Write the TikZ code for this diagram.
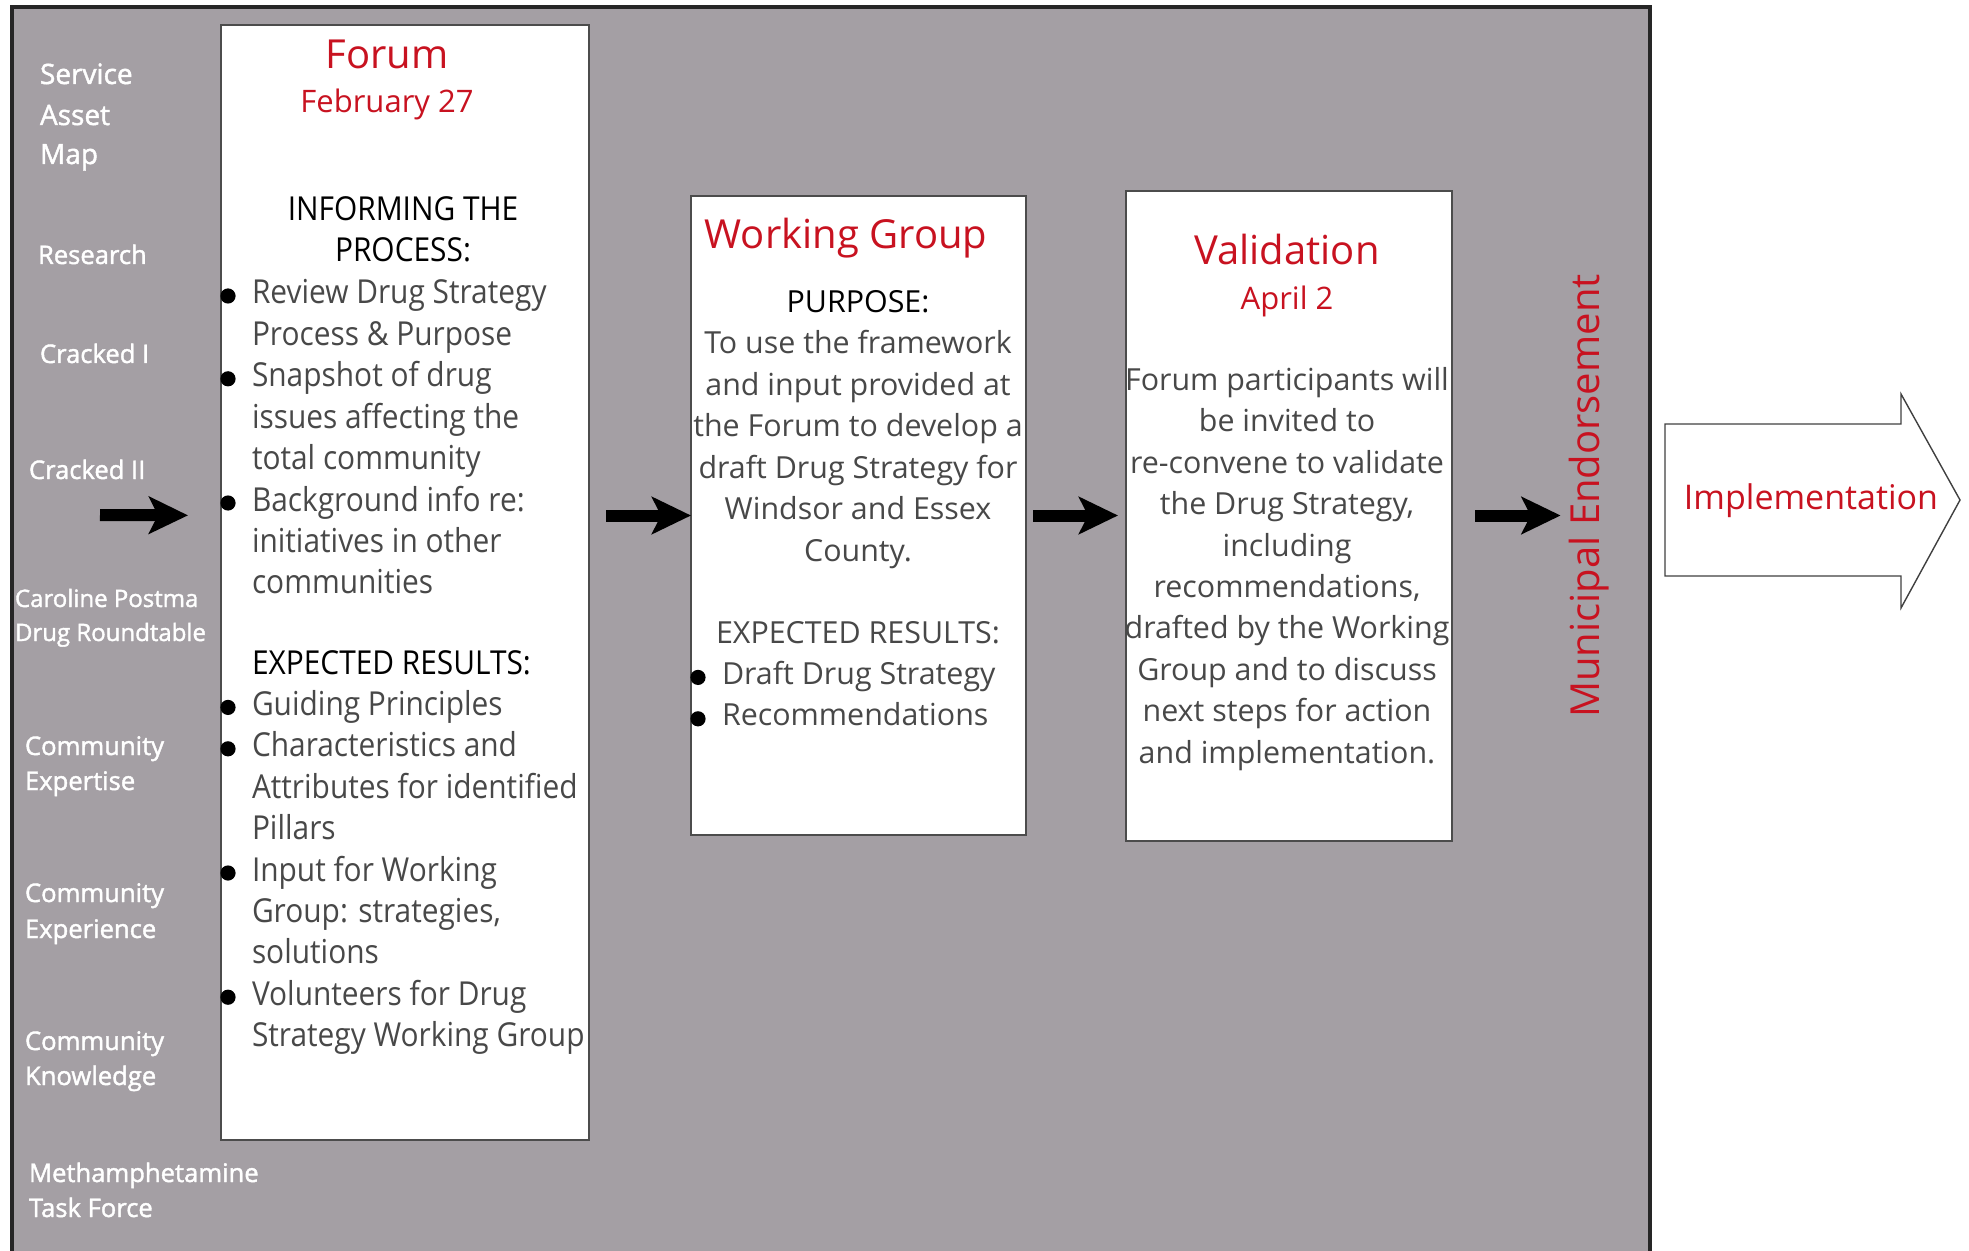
\documentclass[tikz,border=0pt]{standalone}
\usepackage{fontspec}
\setmainfont{Open Sans}
\newfontfamily\bodyfont{Open Sans}
\newfontfamily\narrowfont[FakeStretch=0.905]{Open Sans}
\newfontfamily\labelfont[FakeBold=1.6]{Open Sans}
\usetikzlibrary{arrows.meta}
\definecolor{panel}{RGB}{164,159,164}
\definecolor{accent}{RGB}{200,18,32}
\definecolor{bodytext}{RGB}{72,72,72}
\begin{document}
\begin{tikzpicture}[x=0.5pt, y=-0.5pt,
  every node/.style={inner sep=0pt, outer sep=0pt},
  stagebox/.style={draw=black!70, line width=0.9pt, fill=white, rectangle, anchor=north west},
  title/.style={text=accent, font=\bodyfont\fontsize{20}{24}\selectfont, anchor=base},
  datetxt/.style={text=accent, font=\bodyfont\fontsize{15.5}{19}\selectfont, anchor=base},
  fbody/.style={text=bodytext, font=\narrowfont\fontsize{16.5}{20}\selectfont, anchor=base west},
  fhead/.style={text=black, font=\narrowfont\fontsize{16.5}{20}\selectfont, anchor=base},
  cbody/.style={text=bodytext, font=\bodyfont\fontsize{15.2}{19}\selectfont, anchor=base},
  side/.style={text=white, font=\labelfont\fontsize{12.8}{15}\selectfont, anchor=base west},
  sidelarge/.style={text=white, font=\labelfont\fontsize{14}{17}\selectfont, anchor=base west},
  sidesmall/.style={text=white, font=\labelfont\fontsize{12}{14}\selectfont, anchor=base west},
  flow/.style={line width=6pt, -{Stealth[length=19.5pt, width=18.5pt, inset=4.5pt]}},
  bullet/.style={fill=black}
]
\useasboundingbox (0,0) rectangle (1969,1251);

% grey backdrop
\fill[panel] (12,7) rectangle (1650,1251);
\draw[line width=1.6pt, black!85] (12,1251) -- (12,7) -- (1650,7) -- (1650,1251);

% input labels
\foreach \px/\py/\t [count=\i] in {40/75/Service, 40/116/Asset, 40/155/Map}
  \node[sidelarge] (lbla\i) at (\px,\py+9) {\t};
\foreach \px/\py/\t [count=\i] in {
  38/256/Research, 40/355/Cracked I, 29/471/Cracked II,
  25/747/Community, 25/782/Expertise,
  25/894/Community, 25/930/Experience,
  25/1042/Community, 25/1077/Knowledge,
  29/1174/Methamphetamine, 29/1209/Task Force}
  \node[side] (lbl\i) at (\px,\py+8) {\t};
\node[sidesmall] (lblcp1) at (15,607) {Caroline Postma};
\node[sidesmall] (lblcp2) at (15,641) {Drug Roundtable};

% stage boxes
\node[stagebox, minimum width=184pt, minimum height=557.5pt] (forum) at (221,25) {};
\node[stagebox, minimum width=167.5pt, minimum height=319.5pt] (wg) at (691,196) {};
\node[stagebox, minimum width=163pt, minimum height=325pt] (val) at (1126,191) {};

% Forum
\node[title] (forumtitle) at (387,69) {Forum};
\node[datetxt] (forumdate) at (387,113) {February 27};
\node[fhead] (inf1) at (403,221) {INFORMING THE};
\node[fhead] (inf2) at (403,262) {PROCESS:};
\foreach \t [count=\k from 0] in {Review Drug Strategy, Process \& Purpose,
  Snapshot of drug, issues affecting the, total community,
  Background info re:, initiatives in other, communities}
  \node[fbody] (fa\k) at (252,304+41.4*\k) {\t};
\node[fbody, text=black] (fexp) at (252,674) {EXPECTED RESULTS:};
\foreach \t [count=\k] in {Guiding Principles, Characteristics and,
  Attributes for identified, Pillars, Input for Working,
  {Group: strategies,}, solutions, Volunteers for Drug,
  Strategy Working Group}
  \node[fbody] (fb\k) at (252,674+41.4*\k) {\t};
\foreach \by in {293, 375.8, 500, 704.4, 745.8, 870, 994.2}
  \fill[bullet] (228,\by+3) circle[radius=3.8pt];

% Working Group
\node[title] (wgtitle) at (846,249) {Working Group};
\node[cbody, text=black] (purp) at (858,313) {PURPOSE:};
\foreach \t [count=\k from 0] in {To use the framework, and input provided at,
  the Forum to develop a, draft Drug Strategy for, Windsor and Essex, County.}
  \node[cbody] (wa\k) at (858,354+41.4*\k) {\t};
\node[cbody] (wexp) at (858,643) {EXPECTED RESULTS:};
\node[cbody, anchor=base west] (wb1) at (722,684.4) {Draft Drug Strategy};
\node[cbody, anchor=base west] (wb2) at (722,725.8) {Recommendations};
\foreach \by in {674.4, 715.8}
  \fill[bullet] (698,\by+3) circle[radius=3.8pt];

% Validation
\node[title] (valtitle) at (1287,265) {Validation};
\node[datetxt] (valdate) at (1287,310) {April 2};
\foreach \t [count=\k from 0] in {Forum participants will, be invited to,
  re-convene to validate, {the Drug Strategy,}, including,
  {recommendations,}, drafted by the Working, Group and to discuss,
  next steps for action, and implementation.}
  \node[cbody] (va\k) at (1287,390.5+41.4*\k) {\t};

% endorsement
\node[title, rotate=90] (mun) at (1599,496) {Municipal Endorsement};

% implementation arrow
\draw[draw=black!75, line width=0.7pt, fill=white]
  (1665,424) -- (1901,424) -- (1901,394) -- (1960,500) -- (1901,608)
  -- (1901,576) -- (1665,576) -- cycle;
\node[text=accent, font=\bodyfont\fontsize{17}{20}\selectfont, anchor=base] (impl) at (1811,509) {Implementation};

% flow arrows
\coordinate (src) at (100,515);
\draw[flow, shorten >=16.5pt] (src) -- (forum.west |- wg.west);
\draw[flow, shorten <=8.5pt] (forum.east |- wg.west) -- (wg.west);
\draw[flow, shorten <=3.5pt, shorten >=4pt] (wg.east) -- (val.west |- wg.east);
\draw[flow, shorten <=11.5pt, shorten >=4pt] (val.east |- wg.east) -- (mun.north |- wg.east);
\end{tikzpicture}
\end{document}
